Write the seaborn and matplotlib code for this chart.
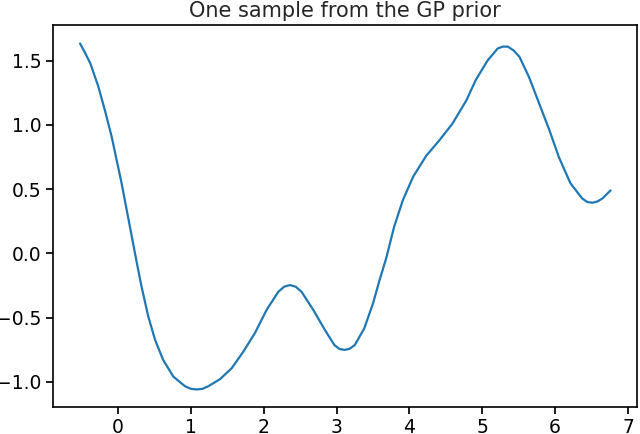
import numpy as np
import pandas as pd
import matplotlib
matplotlib.use("Agg")
import matplotlib.pyplot as plt
import seaborn as sns

# values
x_vals = [-0.52, -0.45, -0.38, -0.27, -0.18, -0.086, -0.018, 0.05, 0.12, 0.19,
          0.26, 0.32, 0.415, 0.51, 0.62, 0.76, 0.92, 1.00, 1.08, 1.16,
          1.24, 1.40, 1.56, 1.72, 1.88, 2.04, 2.20, 2.28, 2.36, 2.44,
          2.52, 2.68, 2.84, 2.97, 3.04, 3.11, 3.18, 3.25, 3.38, 3.50,
          3.59, 3.68, 3.79, 3.91, 4.05, 4.23, 4.41, 4.59, 4.78, 4.91,
          5.07, 5.21, 5.28, 5.35, 5.43, 5.51, 5.64, 5.78, 5.92, 6.05,
          6.21, 6.37, 6.44, 6.51, 6.58, 6.65, 6.76]
y_vals = [1.634, 1.56, 1.48, 1.30, 1.115, 0.907, 0.726, 0.545, 0.337, 0.13,
          -0.078, -0.25, -0.49, -0.675, -0.83, -0.96, -1.035, -1.055, -1.06, -1.055,
          -1.035, -0.98, -0.895, -0.766, -0.62, -0.44, -0.30, -0.26, -0.247, -0.26,
          -0.30, -0.44, -0.597, -0.714, -0.745, -0.752, -0.743, -0.714, -0.584, -0.39,
          -0.208, -0.04, 0.207, 0.415, 0.596, 0.76, 0.88, 1.01, 1.19, 1.35,
          1.50, 1.595, 1.61, 1.61, 1.58, 1.53, 1.374, 1.167, 0.96, 0.75,
          0.545, 0.428, 0.40, 0.394, 0.404, 0.428, 0.49]
title = "One sample from the GP prior"

df = pd.DataFrame({"x": x_vals, "y": y_vals})

sns.set_theme(style="ticks", rc={
    "axes.edgecolor": "black",
    "axes.linewidth": 1.2,
    "xtick.color": "black",
    "ytick.color": "black",
    "xtick.major.size": 5,
    "ytick.major.size": 5,
})
plt.rcParams["font.family"] = ["DejaVu Sans"]

fig = plt.figure(figsize=(6.4, 4.34), dpi=100)
ax = fig.add_axes([0.083, 0.063, 0.912, 0.879])
sns.lineplot(data=df, x="x", y="y", ax=ax, color="#1f77b4", linewidth=1.6,
             sort=False, estimator=None)
ax.set_xlim(-0.89, 7.12)
ax.set_ylim(-1.194, 1.777)
ax.set_xticks([0, 1, 2, 3, 4, 5, 6, 7])
ax.set_yticks([-1.0, -0.5, 0.0, 0.5, 1.0, 1.5])
ax.tick_params(labelsize=13.5)
ax.set_xlabel("")
ax.set_ylabel("")
ax.set_title(title, fontsize=15, pad=6)
fig.savefig("out.png", dpi=100)
